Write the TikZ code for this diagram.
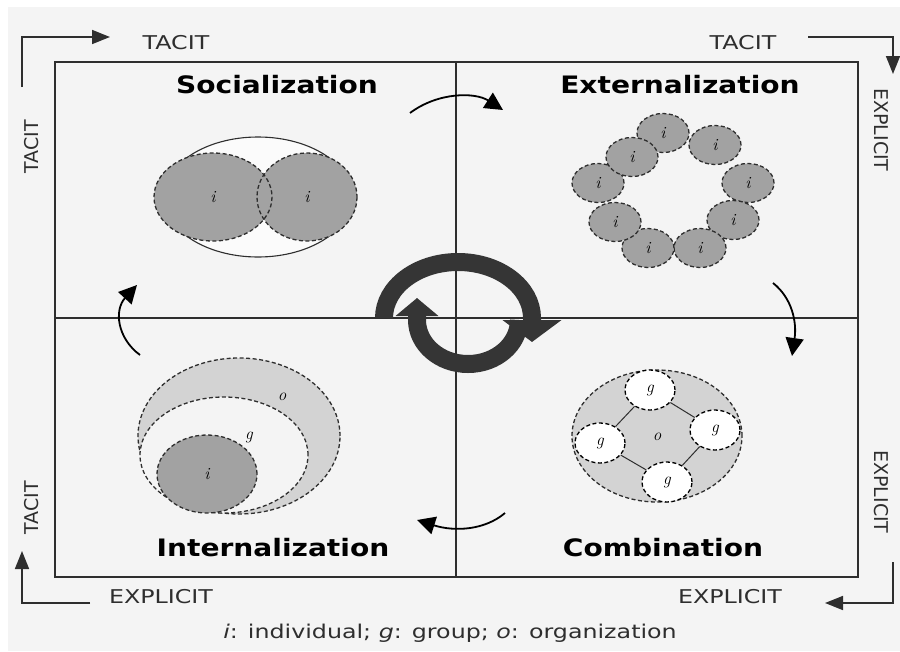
\documentclass[tikz,border=0pt]{standalone}
\usepackage{fontspec}
\setsansfont{DejaVu Sans}
\usepackage{tikz}
\usetikzlibrary{arrows.meta}
\usetikzlibrary{shapes}

\definecolor{paper}{HTML}{F4F4F4}
\definecolor{ink}{HTML}{2E2E2E}
\definecolor{heavy}{HTML}{353535}
\definecolor{darkfill}{HTML}{8E8E8E}
\definecolor{midfill}{HTML}{A2A2A2}
\definecolor{lightfill}{HTML}{D3D3D3}

\tikzset{
  axislabel/.style={font=\sffamily\fontsize{19}{19}\selectfont, text=ink, inner sep=0pt},
  wide/.style={xscale=1.25},
  phase/.style={font=\sffamily\bfseries\fontsize{24}{24}\selectfont, xscale=1.17, inner sep=0pt},
  axisarrow/.style={draw=ink, line width=1.6pt, -{Triangle[length=18pt,width=14pt]}},
  phasearrow/.style={draw=black, line width=1.8pt, -{Triangle[length=18pt,width=18pt]}},
  spin/.style={draw=heavy, line width=18pt},
  dashline/.style={draw=ink, line width=1.3pt, dash pattern=on 4pt off 2.5pt},
  blob/.style={ellipse, dashline, inner sep=0pt,
    font=\rmfamily\itshape\fontsize{17}{17}\selectfont},
  letter/.style={font=\rmfamily\itshape\fontsize{17}{17}\selectfont, inner sep=0pt}
}

% one individual of the externalization ring
\newcommand{\indiv}[3]{ \node[blob, fill=midfill, minimum width=52pt, minimum height=39pt] (#1) at (#2,#3) {i};}

\begin{document}
\begin{tikzpicture}[x=1pt, y=-1pt]
        \useasboundingbox (0,0) rectangle (900,651);
        \fill[white] (0,0) rectangle (900,651);
        \fill[paper] (8,7) rectangle (900,651);

        % the four quadrants
        \draw[ink, line width=1.6pt] (55,62) rectangle (858,577);
        \draw[ink, line width=1.4pt] (456,62) -- (456,577);
        \draw[ink, line width=1.4pt] (55,318) -- (858,318);

        % corner arrows
        \coordinate (tl0) at (22,87);   \coordinate (tl1) at (110,37);
        \coordinate (tr0) at (808,37);  \coordinate (tr1) at (893,74);
        \coordinate (br0) at (893,562); \coordinate (br1) at (825,603);
        \coordinate (bl0) at (90,603);  \coordinate (bl1) at (22,551);
        \draw[axisarrow] (tl0) |- (tl1);
        \draw[axisarrow] (tr0) -| (tr1);
        \draw[axisarrow] (br0) |- (br1);
        \draw[axisarrow] (bl0) -| (bl1);

        \node[axislabel, wide] (tacittl) at (176,43) {TACIT};
        \node[axislabel, wide] (tacittr) at (743,43) {TACIT};
        \node[axislabel, wide] (explbl) at (161,597) {EXPLICIT};
        \node[axislabel, wide] (explbr) at (730,597) {EXPLICIT};
        \node[axislabel, rotate=90] (tacitlt) at (32,147) {TACIT};
        \node[axislabel, rotate=90] (tacitlb) at (32,508) {TACIT};
        \node[axislabel, rotate=-90] (explrt) at (881,130) {EXPLICIT};
        \node[axislabel, rotate=-90] (explrb) at (881,492) {EXPLICIT};

        % titles
        \node[phase] (soc) at (277,85) {Socialization};
        \node[phase] (ext) at (680,85) {Externalization};
        \node[phase] (int) at (273,548) {Internalization};
        \node[phase] (com) at (663,548) {Combination};

        % socialization: two individuals
        \node[ellipse, draw=ink, line width=1.1pt, fill=white!60!paper, minimum width=188pt, minimum height=120pt] (share) at (258,197) {};
        \node[blob, draw=none, fill=midfill, minimum width=100pt, minimum height=88pt] (indr) at (307,197) {i};
        \node[blob, draw=none, fill=midfill, minimum width=118pt, minimum height=88pt] (indl) at (213,197) {i};
        \draw[dashline] (indr.center) ellipse [x radius=50, y radius=44];
        \draw[dashline] (indl.center) ellipse [x radius=59, y radius=44];

        % externalization: ring of individuals
        \indiv{e1}{663}{133}
        \indiv{e2}{715}{145}
        \indiv{e3}{748}{183}
        \indiv{e4}{733}{220}
        \indiv{e5}{700}{248}
        \indiv{e6}{648}{248}
        \indiv{e7}{615}{222}
        \indiv{e8}{598}{183}
        \indiv{e9}{632}{157}

        % combination: groups inside the organization
        \node[blob, fill=lightfill, minimum width=170pt, minimum height=132pt] (orgc) at (657,436) {};
        \node[letter] (oc) at (657,437) {o};
        \node[blob, draw=black, fill=white, minimum width=50pt, minimum height=40pt] (gt) at (650,390) {g};
        \node[blob, draw=black, fill=white, minimum width=50pt, minimum height=40pt] (gr) at (715,430) {g};
        \node[blob, draw=black, fill=white, minimum width=50pt, minimum height=40pt] (gl) at (600,443) {g};
        \node[blob, draw=black, fill=white, minimum width=50pt, minimum height=40pt] (gb) at (667,482) {g};
        \draw[ink, line width=1pt] (gt) -- (gr);
        \draw[ink, line width=1pt] (gr) -- (gb);
        \draw[ink, line width=1pt] (gb) -- (gl);
        \draw[ink, line width=1pt] (gl) -- (gt);

        % internalization: individual inside group inside organization
        \node[blob, fill=lightfill, minimum width=202pt, minimum height=156pt] (orgi) at (239,436) {};
        \node[blob, fill=paper, minimum width=168pt, minimum height=116pt] (grpi) at (224,455) {};
        \node[blob, fill=midfill, minimum width=100pt, minimum height=78pt] (indi) at (207,474) {i};
        \node[letter] (oi) at (282,397) {o};
        \node[letter] (gi) at (249,437) {g};

        % arrows between the phases
        \draw[phasearrow] (410,113) .. controls (438,92) and (475,92) .. (503,110);
        \draw[phasearrow] (773,283) .. controls (792,298) and (797,322) .. (792,356);
        \draw[phasearrow] (505,513) .. controls (485,530) and (455,532) .. (417,520);
        \draw[phasearrow] (140,355) .. controls (117,338) and (114,310) .. (137,285);

        % the spiral in the middle
        \draw[spin, -{Triangle[length=18pt,width=42pt]}] (519,320) arc[start angle=0, end angle=180, x radius=51, y radius=44] -- ++(0,-22);
        \draw[spin, -{Triangle[length=22pt,width=58pt]}] (384,318) arc[start angle=180, end angle=360, x radius=74, y radius=56] -- ++(0,24);

        % legend
        \node[axislabel, wide] (legend) at (450,633) {\textit{i}: individual; \textit{g}: group; \textit{o}: organization};
    \end{tikzpicture}
\end{document}
